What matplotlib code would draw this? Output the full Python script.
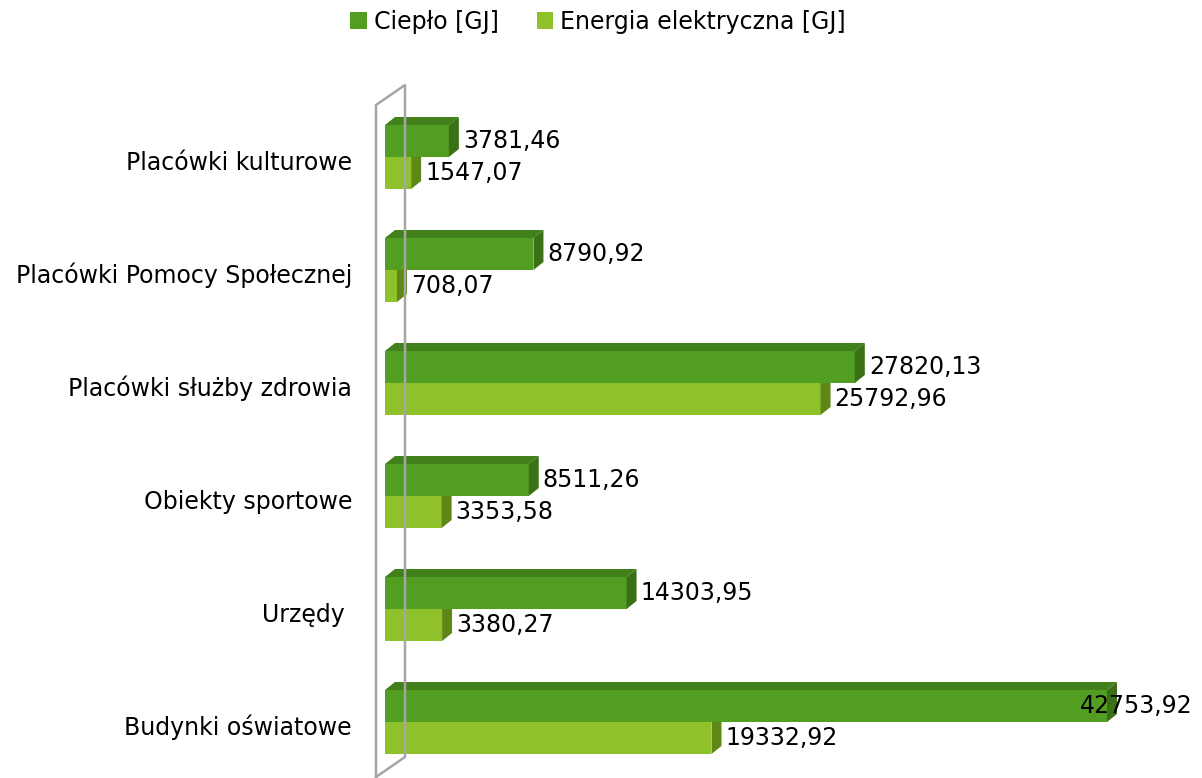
import matplotlib
matplotlib.use("Agg")
import matplotlib.pyplot as plt
from matplotlib.patches import Polygon, Patch
from matplotlib.lines import Line2D

categories = ["Placówki kulturowe", "Placówki Pomocy Społecznej", "Placówki służby zdrowia",
              "Obiekty sportowe", "Urzędy ", "Budynki oświatowe"]
heat = [3781.46, 8790.92, 27820.13, 8511.26, 14303.95, 42753.92]
electric = [1547.07, 708.07, 25792.96, 3353.58, 3380.27, 19332.92]
series_names = ["Ciepło [GJ]", "Energia elektryczna [GJ]"]

W, H = 1202, 778
fig = plt.figure(figsize=(W / 100, H / 100), dpi=100)
ax = fig.add_axes([0, 0, 1, 1])
x0_px = 385
ppu = 722 / 42753.92
ax.set_xlim(-x0_px / ppu, (W - x0_px) / ppu)
g0, gstep = 157, 113
ax.set_ylim((H - g0) / gstep, -g0 / gstep)
ax.axis("off")

FONT = "DejaVu Sans"
FS = 17

bar_h = 32 / gstep
dx = 10 / ppu
dy = 8 / gstep

dark = dict(front="#529E22", top="#41801A", side="#3A7116")
light = dict(front="#8FC22A", top="#6E9A1F", side="#5F8718")


def bar3d(v, top, col, z):
    ax.add_patch(Polygon([(0, top), (v, top), (v, top + bar_h), (0, top + bar_h)],
                         closed=True, facecolor=col["front"], edgecolor="none", zorder=z))
    ax.add_patch(Polygon([(0, top), (dx, top - dy), (v + dx, top - dy), (v, top)],
                         closed=True, facecolor=col["top"], edgecolor="none", zorder=z))
    ax.add_patch(Polygon([(v, top), (v + dx, top - dy), (v + dx, top + bar_h - dy), (v, top + bar_h)],
                         closed=True, facecolor=col["side"], edgecolor="none", zorder=z))


def fmt(v):
    return f"{v:.2f}".replace(".", ",")


fig.canvas.draw()
renderer = fig.canvas.get_renderer()

for i, (cat, h, e) in enumerate(zip(categories, heat, electric)):
    bar3d(e, i, light, 3 + i * 2)
    bar3d(h, i - bar_h, dark, 4 + i * 2)
    ax.text((352 - x0_px) / ppu, i + 0.05, cat, ha="right", va="center",
            fontsize=FS, family=FONT, color="#000000")
    for v, yc in ((h, i - bar_h / 2), (e, i + bar_h / 2)):
        xt = v + dx + 4 / ppu
        t = ax.text(xt, yc, fmt(v), ha="left", va="center", fontsize=FS,
                    family=FONT, color="#000000", zorder=50)
        bb = t.get_window_extent(renderer)
        if bb.x1 > W - 8:
            t.set_ha("right")
            t.set_x((W - 10 - x0_px) / ppu)

# wall (decorative)
wx = [376, 376, 405, 405, 376]
wy = [790, 105, 85, 757, 777]
fig.add_artist(Line2D([x / W for x in wx], [1 - y / H for y in wy], color="#A6A6A6",
                      lw=1.8, transform=fig.transFigure, zorder=1))

handles = [Patch(facecolor=dark["front"], label=series_names[0]),
           Patch(facecolor=light["front"], label=series_names[1])]
fig.legend(handles=handles, loc="center", bbox_to_anchor=(598 / W, 1 - 22 / H), ncol=2,
           frameon=False, prop=dict(family=FONT, size=FS), handlelength=0.7,
           handleheight=0.7, handletextpad=0.3, columnspacing=1.6)

fig.savefig("out.png", dpi=100)
